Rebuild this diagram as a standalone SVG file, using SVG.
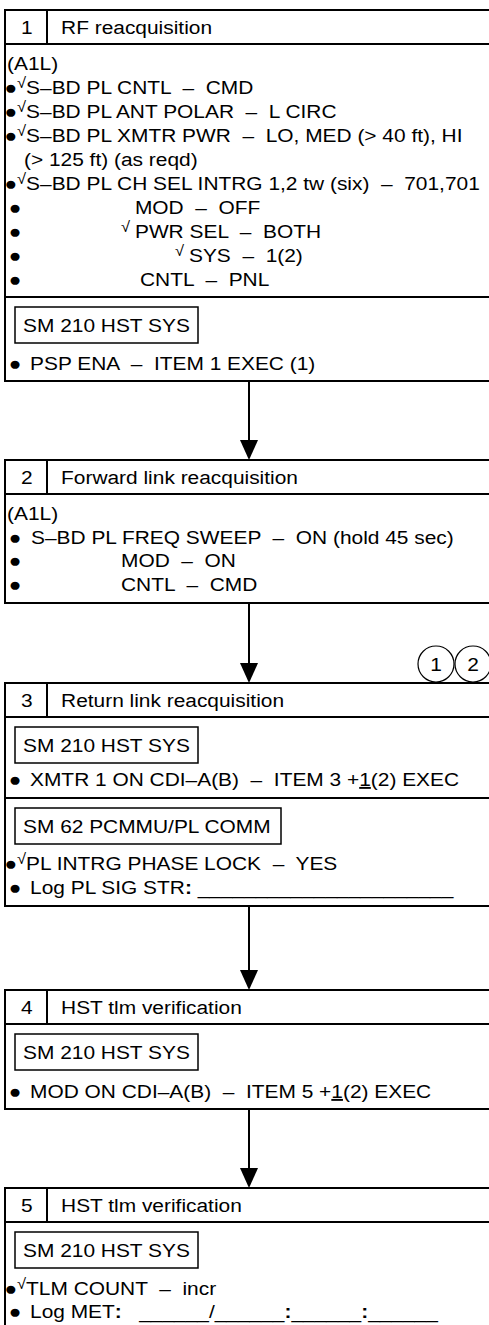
<svg xmlns="http://www.w3.org/2000/svg" width="489" height="1325" viewBox="0 0 489 1325">
<style>
text { font-family: "Liberation Sans", Arial, sans-serif; font-size: 19px; fill: #000; white-space: pre; }
.ck { font-size: 15px; }
.bb { font-size: 19px; }
.pb { font-size: 19px; }
.b { font-weight: bold; }
.box { fill: #fff; stroke: #000; stroke-width: 2; }
.ln { fill: none; stroke: #000; stroke-width: 2; }
.sm { fill: none; stroke: #000; stroke-width: 1.5; }
.num { text-anchor: middle; }
.circ { fill: none; stroke: #000; stroke-width: 1.2; }
.ar { fill: #000; }
</style>

<g id="connectors">
<line class="ln" x1="249" y1="381" x2="249" y2="442"/>
<path class="ar" d="M240,440 L258,440 L249,460 Z"/>
<line class="ln" x1="249" y1="603" x2="249" y2="665"/>
<path class="ar" d="M240,663 L258,663 L249,683 Z"/>
<line class="ln" x1="249" y1="906" x2="249" y2="972"/>
<path class="ar" d="M240,970 L258,970 L249,990 Z"/>
<line class="ln" x1="249" y1="1109" x2="249" y2="1170"/>
<path class="ar" d="M240,1168 L258,1168 L249,1188 Z"/>
</g>

<g id="node1">
<rect class="box" x="5" y="10" width="500" height="371"/>
<line class="ln" x1="5" y1="44" x2="505" y2="44"/>
<line class="ln" x1="47" y1="10" x2="47" y2="44"/>
<line class="ln" x1="5" y1="297" x2="505" y2="297"/>
<rect class="sm" x="15" y="307" width="183" height="36"/>
<g transform="scale(1.1 1)">
<text class="num" x="24.5" y="34">1</text>
<text x="55.5" y="34">RF reacquisition</text>
<text x="6.4" y="70">(A1L)</text>
<text x="4" y="94"><tspan class="bb">●</tspan><tspan class="ck" dy="-6">√</tspan><tspan dy="6">S–BD PL CNTL  –  CMD</tspan></text>
<text x="4" y="118"><tspan class="bb">●</tspan><tspan class="ck" dy="-6">√</tspan><tspan dy="6">S–BD PL ANT POLAR  –  L CIRC</tspan></text>
<text x="4" y="142"><tspan class="bb">●</tspan><tspan class="ck" dy="-6">√</tspan><tspan dy="6">S–BD PL XMTR PWR  –  LO, MED (&gt; 40 ft), HI</tspan></text>
<text x="21.8" y="166">(&gt; 125 ft) (as reqd)</text>
<text x="4" y="190"><tspan class="bb">●</tspan><tspan class="ck" dy="-6">√</tspan><tspan dy="6">S–BD PL CH SEL INTRG 1,2 tw (six)  –  701,701</tspan></text>
<text class="pb" x="8" y="214">●</text><text x="122.7" y="214">MOD  –  OFF</text>
<text class="pb" x="8" y="238">●</text><text class="ck" x="110" y="232">√</text><text x="122.7" y="238">PWR SEL  –  BOTH</text>
<text class="pb" x="8" y="262">●</text><text class="ck" x="159" y="256">√</text><text x="171.8" y="262">SYS  –  1(2)</text>
<text class="pb" x="8" y="286">●</text><text x="127.3" y="286">CNTL  –  PNL</text>
<text x="20.9" y="332">SM 210 HST SYS</text>
<text class="pb" x="8" y="370">●</text><text x="27.3" y="370">PSP ENA  –  ITEM 1 EXEC (1)</text>
</g>
</g>

<g id="node2">
<rect class="box" x="5" y="460" width="500" height="143"/>
<line class="ln" x1="5" y1="494" x2="505" y2="494"/>
<line class="ln" x1="47" y1="460" x2="47" y2="494"/>
<g transform="scale(1.1 1)">
<text class="num" x="24.5" y="484">2</text>
<text x="55.5" y="484">Forward link reacquisition</text>
<text x="6.4" y="520">(A1L)</text>
<text class="pb" x="8" y="544">●</text><text x="28.2" y="544">S–BD PL FREQ SWEEP  –  ON (hold 45 sec)</text>
<text class="pb" x="8" y="567">●</text><text x="110" y="567">MOD  –  ON</text>
<text class="pb" x="8" y="591">●</text><text x="110" y="591">CNTL  –  CMD</text>
</g>
</g>

<g id="node3">
<rect class="box" x="5" y="683" width="500" height="223"/>
<line class="ln" x1="5" y1="717" x2="505" y2="717"/>
<line class="ln" x1="47" y1="683" x2="47" y2="717"/>
<rect class="sm" x="15" y="727" width="183" height="36"/>
<line class="ln" x1="5" y1="798" x2="505" y2="798"/>
<rect class="sm" x="15" y="808" width="266" height="36"/>
<g transform="scale(1.1 1)">
<text class="num" x="24.5" y="707">3</text>
<text x="55.5" y="707">Return link reacquisition</text>
<text x="20.9" y="752">SM 210 HST SYS</text>
<text class="pb" x="8" y="786">●</text><text x="27.3" y="786">XMTR 1 ON CDI–A(B)  –  ITEM 3 +<tspan text-decoration="underline">1</tspan>(2) EXEC</text>
<text x="20.9" y="833">SM 62 PCMMU/PL COMM</text>
<text x="4" y="870"><tspan class="bb">●</tspan><tspan class="ck" dy="-6">√</tspan><tspan dy="6">PL INTRG PHASE LOCK  –  YES</tspan></text>
<text class="pb" x="8" y="894">●</text><text x="27.3" y="894">Log PL SIG STR<tspan class="b">:</tspan> ______________________</text>
</g>
</g>

<g id="circles">
<circle class="circ" cx="436" cy="664" r="18"/>
<circle class="circ" cx="473" cy="664" r="18"/>
<g transform="scale(1.1 1)">
<text class="num" x="396.4" y="671">1</text>
<text class="num" x="430" y="671">2</text>
</g>
</g>

<g id="node4">
<rect class="box" x="5" y="990" width="500" height="119"/>
<line class="ln" x1="5" y1="1024" x2="505" y2="1024"/>
<line class="ln" x1="47" y1="990" x2="47" y2="1024"/>
<rect class="sm" x="15" y="1034" width="183" height="36"/>
<g transform="scale(1.1 1)">
<text class="num" x="24.5" y="1014">4</text>
<text x="55.5" y="1014">HST tlm verification</text>
<text x="20.9" y="1059">SM 210 HST SYS</text>
<text class="pb" x="8" y="1098">●</text><text x="27.3" y="1098">MOD ON CDI–A(B)  –  ITEM 5 +<tspan text-decoration="underline">1</tspan>(2) EXEC</text>
</g>
</g>

<g id="node5">
<rect class="box" x="5" y="1188" width="500" height="160"/>
<line class="ln" x1="5" y1="1222" x2="505" y2="1222"/>
<line class="ln" x1="47" y1="1188" x2="47" y2="1222"/>
<rect class="sm" x="15" y="1232" width="183" height="36"/>
<g transform="scale(1.1 1)">
<text class="num" x="24.5" y="1212">5</text>
<text x="55.5" y="1212">HST tlm verification</text>
<text x="20.9" y="1257">SM 210 HST SYS</text>
<text x="4" y="1295"><tspan class="bb">●</tspan><tspan class="ck" dy="-6">√</tspan><tspan dy="6">TLM COUNT  –  incr</tspan></text>
<text class="pb" x="8" y="1318">●</text><text x="27.3" y="1318">Log MET<tspan class="b">:</tspan>   ______/______<tspan class="b">:</tspan>______<tspan class="b">:</tspan>______</text>
</g>
</g>
</svg>
